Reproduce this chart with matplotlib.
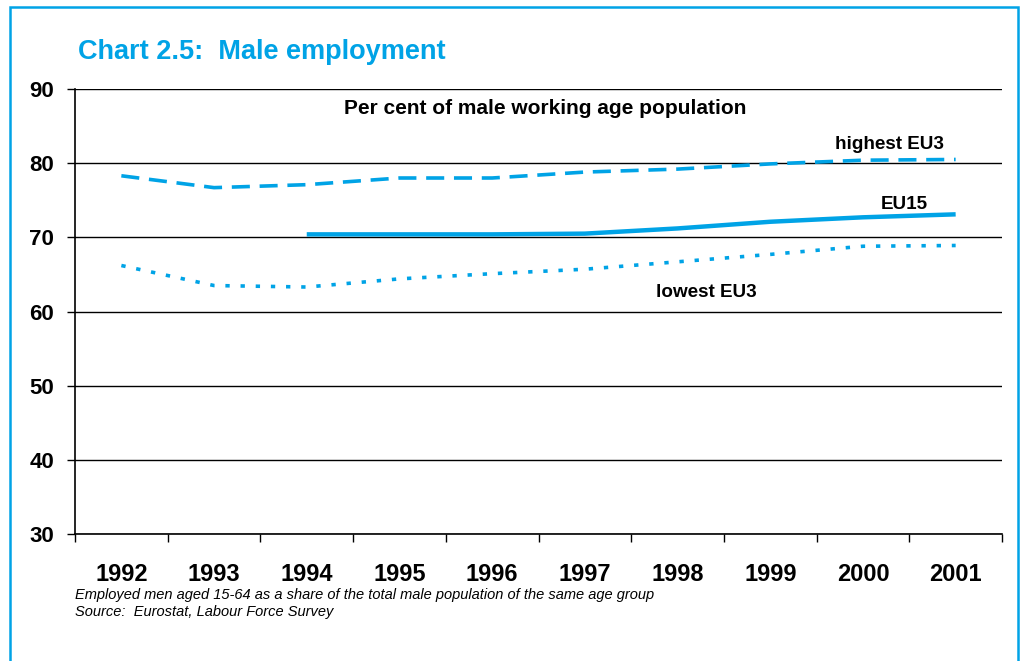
import matplotlib.pyplot as plt
from matplotlib.patches import Rectangle

# Data
years = ['1992', '1993', '1994', '1995', '1996', '1997', '1998', '1999', '2000', '2001']
highest_eu3 = [78.3, 76.7, 77.1, 78.0, 78.0, 78.8, 79.2, 79.9, 80.4, 80.5]
eu15_years = ['1994', '1995', '1996', '1997', '1998', '1999', '2000', '2001']
eu15 = [70.4, 70.4, 70.4, 70.5, 71.2, 72.1, 72.7, 73.1]
lowest_eu3 = [66.2, 63.5, 63.3, 64.4, 65.1, 65.7, 66.7, 67.7, 68.8, 68.9]
yticks = [30, 40, 50, 60, 70, 80, 90]

blue = '#00a3e6'
plt.rcParams['font.family'] = ['Liberation Sans', 'DejaVu Sans']

fig = plt.figure(figsize=(10.21, 6.61), dpi=100)
ax = fig.add_axes([75 / 1021, 1 - 534 / 661, (1002 - 75) / 1021, (534 - 89) / 661])

x_all = list(range(len(years)))
x_eu15 = [years.index(y) for y in eu15_years]

ax.plot(x_all, highest_eu3, color=blue, lw=2.6, linestyle=(0, (5.0, 2.7)))
ax.plot(x_eu15, eu15, color=blue, lw=3.2, solid_capstyle='butt')
ax.plot(x_all, lowest_eu3, color=blue, lw=2.6, linestyle=(0, (1.2, 3.0)))

ax.set_xlim(-0.5, len(years) - 0.5)
ax.set_ylim(30, 90)
ax.set_yticks(yticks)
ax.set_yticklabels([str(v) for v in yticks], fontsize=16, fontweight='bold')
ax.yaxis.grid(True, color='black', lw=1)
ax.set_axisbelow(True)

ax.set_xticks(x_all)
ax.set_xticklabels(years, fontsize=17, fontweight='bold')
ax.set_xticks([i - 0.5 for i in range(len(years) + 1)], minor=True)
ax.tick_params(axis='x', which='major', length=0, pad=21)
ax.tick_params(axis='x', which='minor', length=6, width=1, direction='out')
ax.tick_params(axis='y', length=6, width=1, direction='out', pad=9)

for s in ['top', 'right']:
    ax.spines[s].set_visible(False)
for s in ['left', 'bottom']:
    ax.spines[s].set_linewidth(1.2)

# Series labels
ax.text(4.57, 87.4, 'Per cent of male working age population', ha='center', va='center',
        fontsize=15, fontweight='bold')
ax.text(8.29, 82.45, 'highest EU3', ha='center', va='center', fontsize=13.6, fontweight='bold')
ax.text(8.45, 74.4, 'EU15', ha='center', va='center', fontsize=13.6, fontweight='bold')
ax.text(6.31, 62.5, 'lowest EU3', ha='center', va='center', fontsize=13.6, fontweight='bold')

# Title and notes
fig.text(78 / 1021, 1 - 52 / 661, 'Chart 2.5:  Male employment', color=blue, fontsize=19.5,
         fontweight='bold', va='center', ha='left')
fig.text(75 / 1021, 1 - 595 / 661, 'Employed men aged 15-64 as a share of the total male population of the same age group',
         fontsize=10.5, style='italic', va='center', ha='left')
fig.text(75 / 1021, 1 - 612 / 661, 'Source:  Eurostat, Labour Force Survey',
         fontsize=10.5, style='italic', va='center', ha='left')

# Blue frame around the chart
fig.patches.append(Rectangle((10 / 1021, -0.05), (1018 - 10) / 1021, 1.05 - 7 / 661,
                             transform=fig.transFigure, fill=False, edgecolor=blue, lw=1.8))

fig.savefig('out.png', dpi=100)
